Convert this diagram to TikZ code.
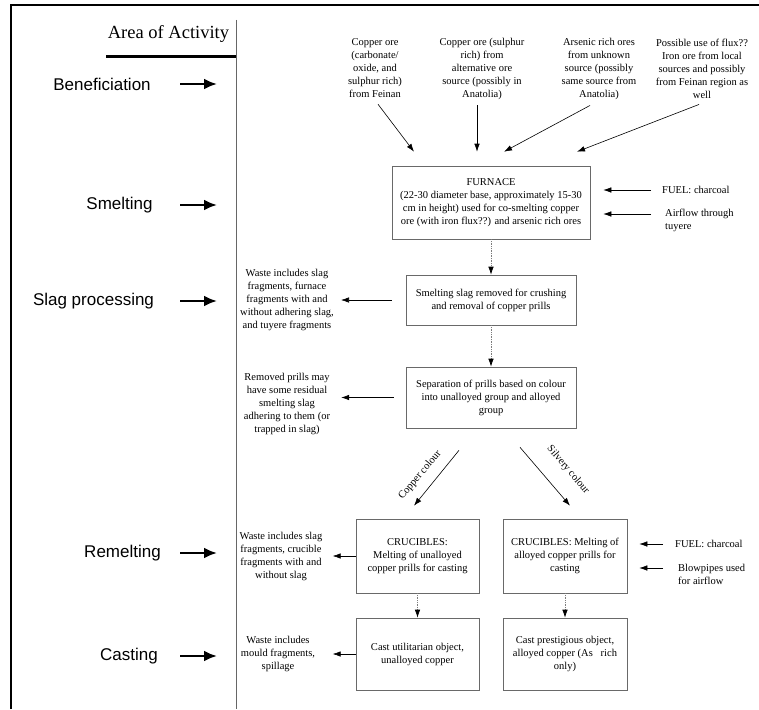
\documentclass[tikz,border=0pt]{standalone}
\usepackage{fontspec}
\setmainfont{Liberation Serif}
\newfontfamily\areafont{Liberation Sans}
\usetikzlibrary{positioning,arrows.meta}
\definecolor{boxGray}{RGB}{105,105,105}
\definecolor{flowGray}{RGB}{125,125,125}
\tikzset{
    stepbox/.style={draw=boxGray, line width=0.6pt, align=center, inner sep=0pt,
        font=\fontsize{10.5}{13}\selectfont},
    note/.style={align=center, inner sep=0pt, font=\fontsize{10.5}{13}\selectfont},
    area/.style={inner sep=0pt, font=\areafont\fontsize{17}{20}\selectfont},
    areaarrow/.style={line width=2.8pt, -{Latex[length=13pt,width=11pt]}},
    feed/.style={line width=0.6pt, -{Latex[length=8pt,width=5.5pt]}},
    flow/.style={draw=flowGray, densely dotted, line width=0.7pt,
        -{Latex[length=8pt,width=5.5pt,color=black]}}
}

\begin{document}
\begin{tikzpicture}[x=1pt, y=-1pt]
\useasboundingbox (0,0) rectangle (759,709);
\fill[white] (0,0) rectangle (759,709);
\draw[line width=2.5pt] (11,709) -- (11,5) -- (759,5);
\draw[line width=0.6pt, black!60] (236,20) -- (236,709);

\node[font=\fontsize{18.5}{22}\selectfont, inner sep=0pt] (areaHead) at (168.5,34) {Area of Activity};
\draw[line width=3pt] (106,56) -- (236,56);

\node[area] (lbBen) at (102,84) {Beneficiation};
\node[area] (lbSme) at (119.5,205) {Smelting};
\node[area] (lbSlag) at (93.5,301) {Slag processing};
\node[area] (lbRem) at (122.5,553) {Remelting};
\node[area] (lbCast) at (129,656) {Casting};
\coordinate (arrowCol) at (180,0);
\draw[areaarrow] (arrowCol |- lbBen) -- ++(37,0);
\draw[areaarrow] (arrowCol |- lbSme) -- ++(37,0);
\draw[areaarrow] (arrowCol |- lbSlag) -- ++(37,0);
\draw[areaarrow] (arrowCol |- lbRem) -- ++(37,0);
\draw[areaarrow] (arrowCol |- lbCast) -- ++(37,0);

\node[note] (srcA) at (375,68.5) {Copper ore\\(carbonate/\\oxide, and\\sulphur rich)\\from Feinan};
\node[note] (srcB) at (482,68.5) {Copper ore (sulphur\\rich) from\\alternative ore\\source (possibly in\\Anatolia)};
\node[note] (srcC) at (599,68.5) {Arsenic rich ores\\from unknown\\source (possibly\\same source from\\Anatolia)};
\node[note] (srcD) at (702,68.5) {Possible use of flux??\\Iron ore from local\\sources and possibly\\from Feinan region as\\well};

\node[stepbox, minimum width=198pt, minimum height=73pt] (furnace) at (491,202.5)
    {FURNACE\\(22-30 diameter base, approximately 15-30\\cm in height) used for co-smelting copper\\ore (with iron flux??) and arsenic rich ores};

\draw[feed] ([xshift=3pt,yshift=-6pt]srcA.south) -- ([xshift=-77pt,yshift=14pt]furnace.north);
\draw[feed] ([xshift=-5pt,yshift=-6pt]srcB.south) -- ([xshift=-14pt,yshift=14pt]furnace.north);
\draw[feed] ([xshift=-9pt,yshift=-6pt]srcC.south) -- ([xshift=13pt,yshift=14pt]furnace.north);
\draw[feed] ([xshift=-3pt,yshift=-6pt]srcD.south) -- ([xshift=86pt,yshift=14pt]furnace.north);

\node[note, anchor=west] (fuelA) at (662,190) {FUEL: charcoal};
\node[note, anchor=west, align=left] (airA) at (665,220.5) {Airflow through\\tuyere};
\coordinate (airTail) at ([yshift=6.5pt]airA.west);
\draw[feed, shorten <=11pt, shorten >=13pt] (fuelA.west) -- (fuelA.west -| furnace.east);
\draw[feed, shorten <=14pt, shorten >=13pt] (airTail) -- (airTail -| furnace.east);

\node[stepbox, minimum width=170pt, minimum height=50pt] (slagBox) at (491,300)
    {Smelting slag removed for crushing\\and removal of copper prills};
\node[note] (wasteSlag) at (287,300) {Waste includes slag\\fragments, furnace\\fragments with and\\without adhering slag,\\and tuyere fragments};
\draw[feed, shorten <=14pt, shorten >=7pt] (slagBox.west) -- (slagBox.west -| wasteSlag.east);

\node[stepbox, minimum width=170pt, minimum height=61pt] (sepBox) at (491,397.5)
    {Separation of prills based on colour\\into unalloyed group and alloyed\\group};
\node[note] (wastePrill) at (287,404) {Removed prills may\\have some residual\\smelting slag\\adhering to them (or\\trapped in slag)};
\draw[feed, shorten <=12pt, shorten >=11pt] (sepBox.west) -- (sepBox.west -| wastePrill.east);

\draw[flow] (furnace) -- (slagBox);
\draw[flow] (slagBox) -- (sepBox);

\node[stepbox, minimum width=123pt, minimum height=74pt] (cruA) at (417.5,556)
    {CRUCIBLES:\\Melting of unalloyed\\copper prills for casting};
\node[stepbox, minimum width=124pt, minimum height=74pt] (cruB) at (565,556)
    {CRUCIBLES: Melting of\\alloyed copper prills for\\casting};

\draw[feed] ([shift={(-32pt,-22pt)}]sepBox.south) -- ([shift={(-3.5pt,13pt)}]cruA.north);
\draw[feed] ([shift={(29pt,-19pt)}]sepBox.south) -- ([shift={(5pt,13pt)}]cruB.north);
\node[note, rotate=50] (lbCopper) at (420,475) {Copper colour};
\node[note, rotate=-50] (lbSilver) at (568,470) {Silvery colour};

\node[note] (wasteCru) at (281,556.5) {Waste includes slag\\fragments, crucible\\fragments with and\\without slag};
\draw[feed] (cruA.west) -- ([xshift=-23pt]cruA.west);

\node[note, anchor=west] (fuelB) at (675,544) {FUEL: charcoal};
\node[note, anchor=west, align=left] (blowB) at (678,574.5) {Blowpipes used\\for airflow};
\coordinate (blowTail) at ([yshift=6.5pt]blowB.west);
\draw[feed, shorten <=12pt, shorten >=12pt] (fuelB.west) -- (fuelB.west -| cruB.east);
\draw[feed, shorten <=15pt, shorten >=12pt] (blowTail) -- (blowTail -| cruB.east);

\node[stepbox, minimum width=123pt, minimum height=72pt] (castA) at (417.5,654)
    {Cast utilitarian object,\\unalloyed copper};
\node[stepbox, minimum width=124pt, minimum height=72pt] (castB) at (565,654)
    {Cast prestigious object,\\alloyed copper (As~~~rich\\only)};
\draw[flow] (cruA) -- (castA);
\draw[flow] (cruB) -- (castB);

\node[note] (wasteCast) at (278,654) {Waste includes\\mould fragments,\\spillage};
\draw[feed] (castA.west) -- ([xshift=-23pt]castA.west);
\end{tikzpicture}
\end{document}
